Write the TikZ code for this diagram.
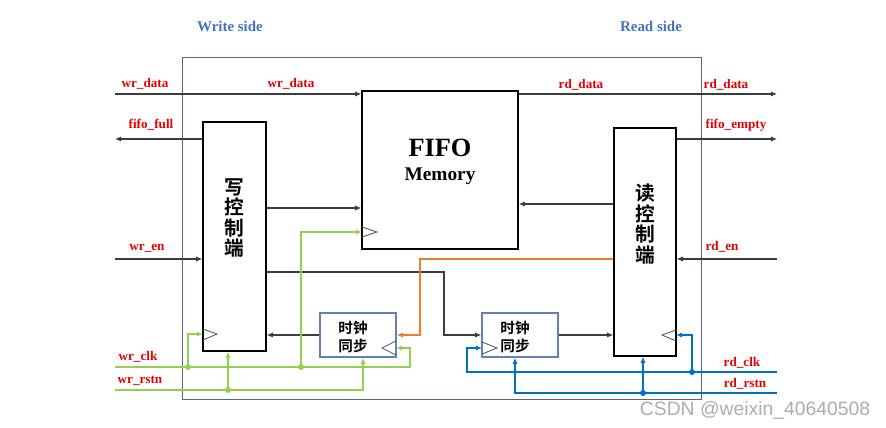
\documentclass[tikz,border=0pt]{standalone}
\usepackage{fontspec}
\setmainfont{Liberation Serif}
\newfontfamily\cjk{Noto Sans CJK SC}[BoldFont={* Bold}]
\newfontfamily\wmfont{Liberation Sans}
\usetikzlibrary{arrows.meta}
\definecolor{sigred}{RGB}{230,0,0}
\definecolor{sideblue}{RGB}{68,114,196}
\definecolor{clkgreen}{RGB}{146,208,80}
\definecolor{clkblue}{RGB}{0,112,192}
\definecolor{syncorange}{RGB}{237,125,49}
\definecolor{framegray}{RGB}{84,100,130}
\definecolor{syncgray}{RGB}{100,130,175}
\definecolor{wire}{RGB}{60,60,60}
\begin{document}
\begin{tikzpicture}[x=0.02cm,y=-0.02cm,
  lbl/.style={text=sigred,font=\fontsize{7.5}{9}\selectfont\bfseries,inner sep=0pt},
  side/.style={text=sideblue,font=\fontsize{8.5}{10}\selectfont\bfseries,inner sep=0pt},
  blk/.style={draw=black,line width=0.8pt,inner sep=0pt},
  syncblk/.style={draw=syncgray,line width=0.8pt,inner sep=0pt,minimum width=1.52cm,minimum height=0.88cm},
  ctxt/.style={font=\cjk\bfseries\fontsize{11.2}{11.7}\selectfont,align=center,inner sep=0pt},
  stxt/.style={font=\cjk\bfseries\fontsize{8.3}{10.2}\selectfont,align=center,inner sep=0pt},
  sig/.style={draw=wire,line width=0.6pt,-{Latex[length=3.5pt,width=3pt]}},
  grn/.style={draw=clkgreen,line width=1.1pt,-{Latex[length=3.5pt,width=3pt]}},
  blu/.style={draw=clkblue,line width=1.1pt,-{Latex[length=3.5pt,width=3pt]}},
  org/.style={draw=syncorange,line width=0.8pt,-{Latex[length=3.5pt,width=3pt]}},
  clk/.style={draw=gray!70!black,line width=0.5pt}]
  \useasboundingbox (0,0) rectangle (886,428);
  % frame and side titles
  \draw[framegray,line width=0.5pt] (182,57) rectangle (701,399);
  \node[side] (wside) at (230,26) {Write side}; \node[side] (rside) at (651,26) {Read side};
  % blocks
  \node[blk,minimum width=3.12cm,minimum height=3.16cm] (fifo) at (440,170) {};
  \node[blk,minimum width=1.26cm,minimum height=4.58cm] (wctrl) at (234.5,236.5) {};
  \node[blk,minimum width=1.24cm,minimum height=4.56cm] (rctrl) at (645,242) {};
  \node[syncblk] (wsync) at (358,335) {}; \node[syncblk] (rsync) at (520,335) {};
  \node[inner sep=0pt,font=\fontsize{15}{17}\selectfont\bfseries] (fifotxt) at (440,148) {FIFO};
  \node[inner sep=0pt,font=\fontsize{11}{13}\selectfont\bfseries] (memtxt) at (440,176) {Memory};
  \node[ctxt] (wtxt) at (234,218) {写\\控\\制\\端}; \node[ctxt] (rtxt) at (645,224) {读\\控\\制\\端};
  \node[stxt] (wstxt) at (353,337) {时钟\\同步}; \node[stxt] (rstxt) at (515,337) {时钟\\同步};
  % clock pins
  \draw[clk] (362,227)--(377,232)--(362,237); \draw[clk] (203,329)--(217,334)--(203,340);
  \draw[clk] (396,341)--(382,348)--(396,355); \draw[clk] (482,342)--(497,348)--(482,354);
  \draw[clk] (676,330)--(662,335)--(676,341);
  % pin points
  \coordinate (wrdin) at (115,94); \coordinate (ffull) at (115,139); \coordinate (wren) at (115,259);
  \coordinate (wclkin) at (115,367); \coordinate (wrstin) at (115,390);
  \coordinate (rdout) at (777,94); \coordinate (fempty) at (777,139); \coordinate (rden) at (777,259);
  \coordinate (rclkin) at (777,372); \coordinate (rrstin) at (777,393);
  \coordinate (fck) at (362,232); \coordinate (wck) at (203,334); \coordinate (wsck) at (396,348);
  \coordinate (rsck) at (482,348); \coordinate (rck) at (676,335);
  \coordinate (wf) at (0,208); \coordinate (rf) at (0,204); \coordinate (wk) at (444,272); \coordinate (ok) at (420,259);
  \coordinate (d1) at (188,367); \coordinate (d2) at (301,367); \coordinate (d3) at (228,390);
  \coordinate (d4) at (692,372); \coordinate (d5) at (643,393);
  % data and control
  \draw[sig] (wrdin) -- (fifo.west |- wrdin); \draw[sig] (wctrl.west |- ffull) -- (ffull);
  \draw[sig] (wren) -- (wctrl.west |- wren); \draw[sig] (wctrl.east |- wf) -- (fifo.west |- wf);
  \draw[sig] (rctrl.west |- rf) -- (fifo.east |- rf); \draw[sig] (fifo.east |- rdout) -- (rdout);
  \draw[sig] (rctrl.east |- fempty) -- (fempty); \draw[sig] (rden) -- (rctrl.east |- rden);
  \draw[sig] (wctrl.east |- wk) -- (wk) |- (rsync.west); \draw[sig] (wsync.west) -- (wctrl.east |- wsync.west);
  \draw[sig] (rsync.east) -- (rctrl.west |- rsync.east);
  \draw[org] (rctrl.west |- ok) -- (ok) |- (wsync.east);
  % write clock and reset
  \draw[grn] (wclkin) -| ([xshift=0.28cm]wsck) -- (wsck);
  \draw[grn] (d1) |- (wck); \draw[grn] (d2) |- (fck);
  \draw[grn] (wrstin) -| ([xshift=0.1cm]wsync.south); \draw[grn] (d3) -- (d3 |- wctrl.south);
  \fill[clkgreen] (d1) circle[radius=3]; \fill[clkgreen] (d2) circle[radius=3]; \fill[clkgreen] (d3) circle[radius=3];
  % read clock and reset
  \draw[blu] (rclkin) -| ([xshift=-0.3cm]rsck) -- (rsck);
  \draw[blu] (d4) |- (rck);
  \draw[blu] (rrstin) -| ([xshift=-0.1cm]rsync.south); \draw[blu] (d5) -- (d5 |- rctrl.south);
  \fill[clkblue] (d4) circle[radius=3]; \fill[clkblue] (d5) circle[radius=3];
  % labels
  \node[lbl] (l1) at (145,84) {wr\_data}; \node[lbl] (l2) at (291,84) {wr\_data};
  \node[lbl] (l3) at (151,125) {fifo\_full}; \node[lbl] (l4) at (147,248) {wr\_en};
  \node[lbl] (l5) at (138,357) {wr\_clk}; \node[lbl] (l6) at (140,381) {wr\_rstn};
  \node[lbl] (l7) at (581,85) {rd\_data}; \node[lbl] (l8) at (726,85) {rd\_data};
  \node[lbl] (l9) at (736,125) {fifo\_empty}; \node[lbl] (l10) at (722,247) {rd\_en};
  \node[lbl] (l11) at (742,363) {rd\_clk}; \node[lbl] (l12) at (745,384) {rd\_rstn};
  \node[inner sep=0pt,text=gray!65,font=\wmfont\fontsize{11}{13}\selectfont] (wm) at (755,410) {CSDN @weixin\_40640508};
\end{tikzpicture}
\end{document}
